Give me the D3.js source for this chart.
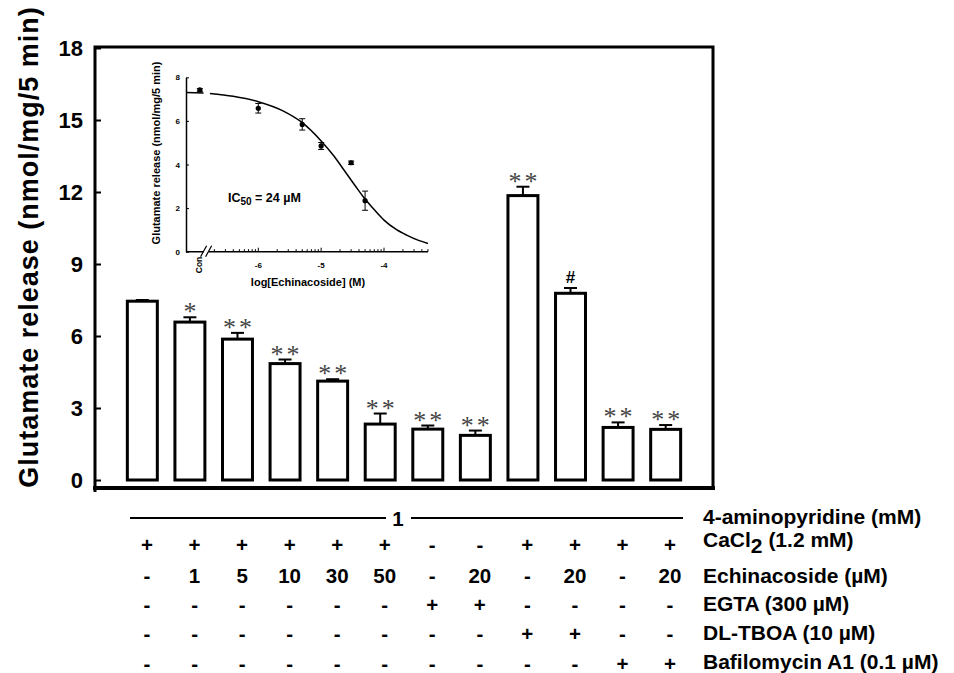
<!DOCTYPE html>
<html>
<head>
<meta charset="utf-8">
<script src="https://cdn.jsdelivr.net/npm/d3@7"></script>
<style>
  body { margin: 0; background: #fff; }
  svg { display: block; font-family: Arial, "Liberation Sans", sans-serif; font-weight: bold; }
</style>
</head>
<body>
<svg width="954" height="673"></svg>
<script>
// main bar chart values (nmol/mg/5 min)
var barValues = [7.45, 6.58, 5.87, 4.85, 4.12, 2.33, 2.12, 1.86, 11.85, 7.78, 2.19, 2.11];
var barErrors = [0.05, 0.20, 0.26, 0.17, 0.08, 0.44, 0.15, 0.20, 0.37, 0.22, 0.21, 0.18];
var sigMarks = ["", "*", "**", "**", "**", "**", "**", "**", "**", "#", "**", "**"];
var yTicks = [0, 3, 6, 9, 12, 15, 18];

// treatment table under the bars
var cacl2 = ["+", "+", "+", "+", "+", "+", "-", "-", "+", "+", "+", "+"];
var echinacoside = ["-", "1", "5", "10", "30", "50", "-", "20", "-", "20", "-", "20"];
var egta = ["-", "-", "-", "-", "-", "-", "+", "+", "-", "-", "-", "-"];
var tboa = ["-", "-", "-", "-", "-", "-", "-", "-", "+", "+", "-", "-"];
var bafilomycin = ["-", "-", "-", "-", "-", "-", "-", "-", "-", "-", "+", "+"];

// inset: concentration-response
var insetLogs = [-6.93, -6, -5.301, -5, -4.523, -4.301];   // first one = control
var insetValues = [7.42, 6.58, 5.84, 4.85, 4.08, 2.34];
var insetErrors = [0.06, 0.22, 0.26, 0.16, 0.08, 0.44];
var fitLogs = [-7.15, -6.87, null, -6.77, -6.4, -6.0, -5.6, -5.31, -5.0, -4.8, -4.64, -4.45, -4.33, -4.15, -4.0, -3.8, -3.64, -3.45, -3.3];
var fitValues = [7.30, 7.28, null, 7.26, 7.13, 6.88, 6.45, 5.94, 5.08, 4.40, 3.76, 2.99, 2.52, 1.91, 1.45, 1.01, 0.76, 0.52, 0.38];
var insetYTicks = [0, 2, 4, 6, 8];
var insetXTicks = [-6, -5, -4];

var svg = d3.select("svg");

var x = d3.scaleBand()
    .domain(d3.range(barValues.length))
    .range([95, 713])
    .paddingInner(0.37)
    .paddingOuter(0.68);

var y = d3.scaleLinear()
    .domain([0, 18])
    .range([480, 48]);

// frame
svg.append("path")
    .attr("d", "M95,492V47H713V488")
    .attr("fill", "none")
    .attr("stroke", "#000")
    .attr("stroke-width", 3);

svg.append("line")
    .attr("x1", 93).attr("x2", 715)
    .attr("y1", 488).attr("y2", 488)
    .attr("stroke", "#000")
    .attr("stroke-width", 4);

var yAxis = svg.append("g")
    .attr("transform", "translate(95,0)")
    .call(d3.axisLeft(y).tickValues(yTicks).tickSizeInner(-6).tickSizeOuter(0).tickPadding(12));
yAxis.select(".domain").remove();
yAxis.selectAll(".tick line").attr("stroke-width", 2);
yAxis.selectAll(".tick text")
    .attr("font-size", 22)
    .attr("font-family", "Arial, 'Liberation Sans', sans-serif")
    .attr("font-weight", "bold")
    .attr("fill", "#000");

svg.append("text")
    .attr("transform", "translate(38,247) rotate(-90)")
    .attr("text-anchor", "middle")
    .attr("font-size", 27)
    .attr("letter-spacing", 1)
    .text("Glutamate release (nmol/mg/5 min)");

// bars
var bars = svg.append("g");
bars.selectAll("rect")
    .data(barValues)
    .enter().append("rect")
    .attr("x", function(d, i) { return x(i); })
    .attr("y", function(d) { return y(d); })
    .attr("width", x.bandwidth())
    .attr("height", function(d) { return y(0) - y(d); })
    .attr("fill", "#fff")
    .attr("stroke", "#000")
    .attr("stroke-width", 3);

var err = svg.append("g").attr("stroke", "#000").attr("stroke-width", 2);
barValues.forEach(function(v, i) {
    var cx = x(i) + x.bandwidth() / 2;
    var top = y(v + barErrors[i]);
    err.append("line").attr("x1", cx).attr("x2", cx).attr("y1", y(v)).attr("y2", top);
    err.append("line").attr("x1", cx - 6.5).attr("x2", cx + 6.5).attr("y1", top).attr("y2", top);
    var mark = sigMarks[i];
    if (mark === "#") {
        svg.append("text")
            .attr("x", cx).attr("y", top - 5)
            .attr("text-anchor", "middle")
            .attr("font-size", 17)
            .text(mark);
    } else if (mark) {
        svg.append("text")
            .attr("x", cx + (mark.length > 1 ? 1.5 : 0)).attr("y", top + 3)
            .attr("text-anchor", "middle")
            .attr("font-family", "'Liberation Serif', 'Times New Roman', serif")
            .attr("font-weight", "normal")
            .attr("font-size", 26)
            .attr("letter-spacing", mark.length > 1 ? 3 : 0)
            .attr("fill", "#444")
            .text(mark);
    }
});

// inset
var ix = d3.scaleLinear().domain([-7.15, -3.3]).range([186, 428]);
var iy = d3.scaleLinear().domain([0, 8]).range([251.7, 77.3]);
var inset = svg.append("g");

var iyAxis = inset.append("g")
    .attr("transform", "translate(186,0)")
    .call(d3.axisLeft(iy).tickValues(insetYTicks).tickSizeInner(-3).tickSizeOuter(0).tickPadding(6));
iyAxis.select(".domain").attr("stroke-width", 1.5);
iyAxis.selectAll("text").attr("font-size", 8).attr("font-weight", "bold").attr("fill", "#000")
    .attr("font-family", "Arial, 'Liberation Sans', sans-serif");

// x axis with a break after control
var breakA = ix(-6.87), breakB = ix(-6.79);
inset.append("path")
    .attr("d", "M186," + iy(0) + "H" + breakA + "M" + breakB + "," + iy(0) + "H428")
    .attr("stroke", "#000").attr("stroke-width", 1.5).attr("fill", "none");
inset.append("path")
    .attr("d", "M" + (breakA - 3) + "," + (iy(0) + 5) + "L" + (breakA + 3) + "," + (iy(0) - 6) +
               "M" + (breakB - 3) + "," + (iy(0) + 5) + "L" + (breakB + 3) + "," + (iy(0) - 6))
    .attr("stroke", "#000").attr("stroke-width", 1.2).attr("fill", "none");

var minorTicks = [];
[-7, -6, -5, -4].forEach(function(dec) {
    d3.range(1, 10).forEach(function(k) {
        var l = dec + Math.log10(k);
        if (l > -6.75 && l < -3.3) minorTicks.push(l);
    });
});
inset.selectAll(".minor")
    .data(minorTicks)
    .enter().append("line")
    .attr("x1", function(d) { return ix(d); })
    .attr("x2", function(d) { return ix(d); })
    .attr("y1", iy(0))
    .attr("y2", function(d) { return iy(0) - (Number.isInteger(d) ? 4 : 2.5); })
    .attr("stroke", "#000").attr("stroke-width", 1);

inset.selectAll(".xlab")
    .data(insetXTicks)
    .enter().append("text")
    .attr("x", function(d) { return ix(d); })
    .attr("y", iy(0) + 16)
    .attr("text-anchor", "middle")
    .attr("font-size", 8)
    .text(function(d) { return "-" + Math.abs(d); });

inset.append("text")
    .attr("transform", "translate(" + (ix(insetLogs[0]) - 1) + "," + (iy(0) + 5) + ") rotate(-90)")
    .attr("text-anchor", "end")
    .attr("dy", "0.35em")
    .attr("font-size", 8.5)
    .text("Con");

inset.append("text")
    .attr("x", 308).attr("y", 286)
    .attr("text-anchor", "middle")
    .attr("font-size", 11)
    .text("log[Echinacoside] (M)");

inset.append("text")
    .attr("transform", "translate(160,153) rotate(-90)")
    .attr("text-anchor", "middle")
    .attr("font-size", 11)
    .text("Glutamate release (nmol/mg/5 min)");

var ic = inset.append("text")
    .attr("x", 228).attr("y", 202)
    .attr("font-size", 12.5);
ic.append("tspan").text("IC");
ic.append("tspan").attr("dy", 3).attr("font-size", 10).text("50");
ic.append("tspan").attr("dy", -3).text(" = 24 \u00b5M");

var fit = fitLogs.map(function(l, i) { return { l: l, v: fitValues[i] }; });
inset.append("path")
    .datum(fit)
    .attr("d", d3.line()
        .defined(function(d) { return d.l !== null; })
        .x(function(d) { return ix(d.l); })
        .y(function(d) { return iy(d.v); })
        .curve(d3.curveMonotoneX))
    .attr("fill", "none")
    .attr("stroke", "#000")
    .attr("stroke-width", 1.5);

var ierr = inset.append("g").attr("stroke", "#000").attr("stroke-width", 1);
insetLogs.forEach(function(l, i) {
    var cx = ix(l);
    var lo = iy(insetValues[i] - insetErrors[i]), hi = iy(insetValues[i] + insetErrors[i]);
    ierr.append("line").attr("x1", cx).attr("x2", cx).attr("y1", lo).attr("y2", hi);
    ierr.append("line").attr("x1", cx - 3).attr("x2", cx + 3).attr("y1", lo).attr("y2", lo);
    ierr.append("line").attr("x1", cx - 3).attr("x2", cx + 3).attr("y1", hi).attr("y2", hi);
});
inset.selectAll(".pt")
    .data(insetValues)
    .enter().append("circle")
    .attr("cx", function(d, i) { return ix(insetLogs[i]); })
    .attr("cy", function(d) { return iy(d); })
    .attr("r", 2.6)
    .attr("fill", "#000");

// treatment table
var col = d3.scalePoint().domain(d3.range(12)).range([147, 670]);
var table = svg.append("g").attr("font-size", 20.5).attr("text-anchor", "middle");

svg.append("path")
    .attr("d", "M130,518H386M411,518H683")
    .attr("stroke", "#000").attr("stroke-width", 2);
table.append("text").attr("x", 398).attr("y", 525.5).text("1");

var rows = [cacl2, echinacoside, egta, tboa, bafilomycin];
var rowY = d3.scalePoint().domain(d3.range(rows.length)).range([552, 669]);
rows.forEach(function(r, ri) {
    table.selectAll(".r" + ri)
        .data(r)
        .enter().append("text")
        .attr("x", function(d, i) { return col(i); })
        .attr("y", rowY(ri) + (ri > 0 ? 1.5 : 0))
        .text(function(d) { return d; });
});

var labels = svg.append("g").attr("font-size", 21);
labels.append("text").attr("x", 703).attr("y", 524).text("4-aminopyridine (mM)");
var ca = labels.append("text").attr("x", 703).attr("y", 547);
ca.append("tspan").text("CaCl");
ca.append("tspan").attr("dy", 6).text("2");
ca.append("tspan").attr("dy", -6).text(" (1.2 mM)");
labels.append("text").attr("x", 703).attr("y", rowY(1) + 1.5).text("Echinacoside (\u00b5M)");
labels.append("text").attr("x", 703).attr("y", rowY(2)).text("EGTA (300 \u00b5M)");
labels.append("text").attr("x", 703).attr("y", rowY(3)).text("DL-TBOA (10 \u00b5M)");
labels.append("text").attr("x", 703).attr("y", rowY(4)).text("Bafilomycin A1 (0.1 \u00b5M)");
</script>
</body>
</html>
